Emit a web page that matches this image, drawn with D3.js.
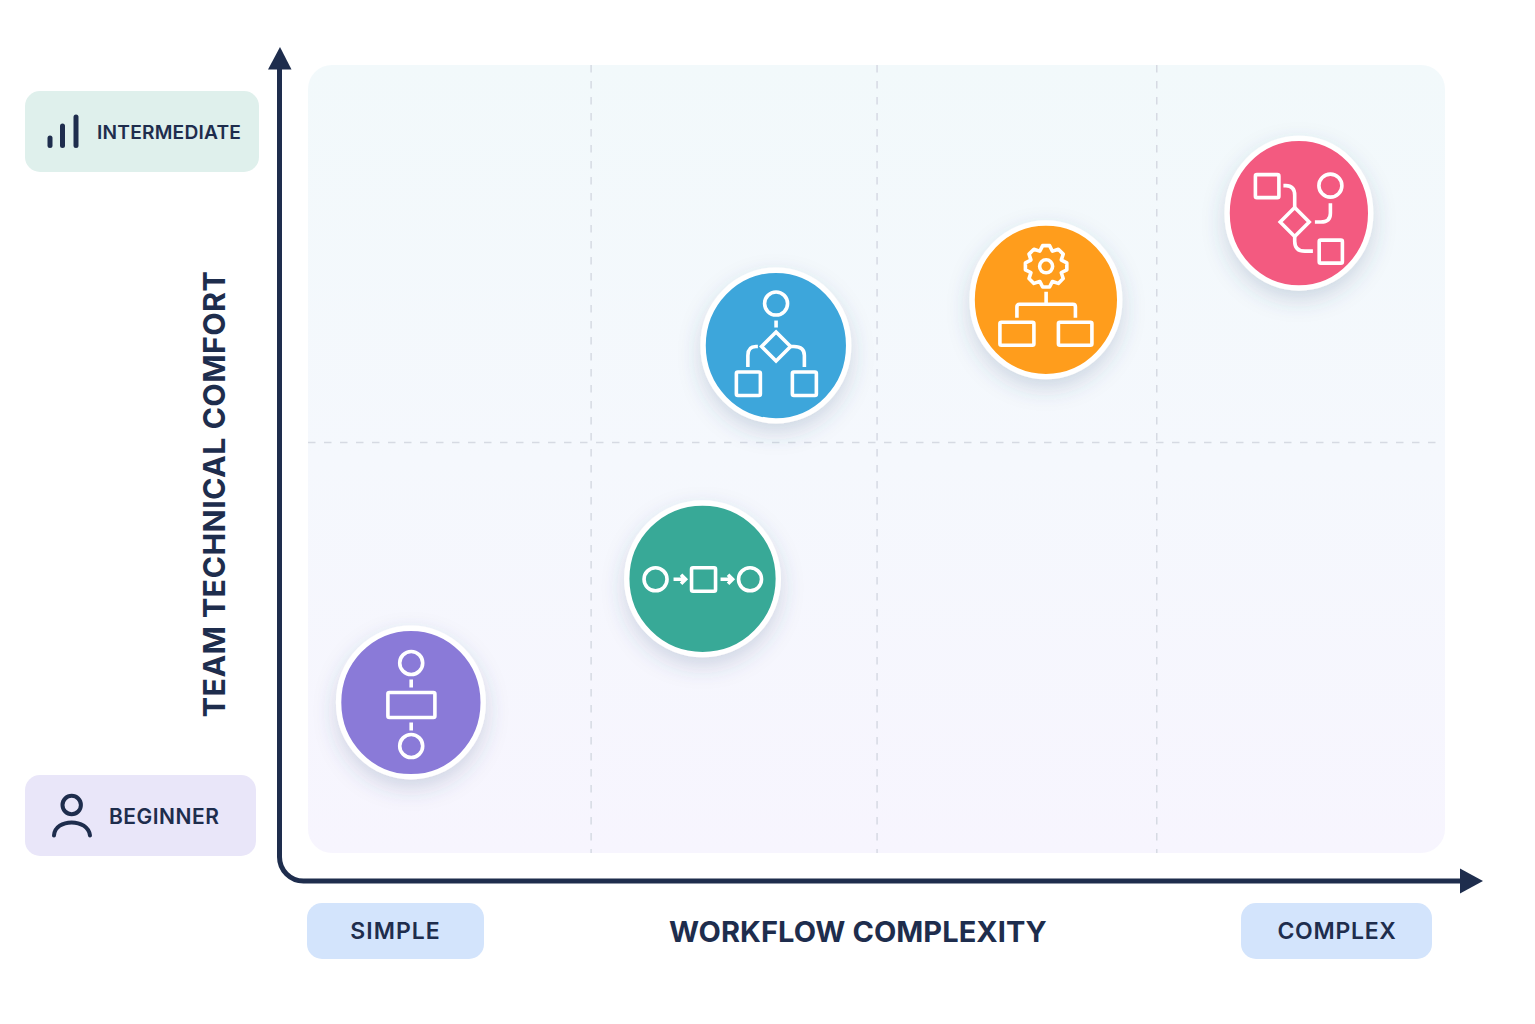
<!DOCTYPE html>
<html><head><meta charset="utf-8">
<style>html,body{margin:0;padding:0;background:#fff}svg{display:block}text{font-family:Inter,"Noto Sans",sans-serif;fill:#1e2d4d}</style>
<script src="https://cdn.jsdelivr.net/npm/d3@7"></script>
</head><body><svg id="c" width="1535" height="1024"></svg>
<script>
// data
const workflows = ["linear-gate","sequence","branch","automation","conditional"];
const complexity = [9.05, 34.7, 41.15, 64.9, 87.15];
const comfort = [19.1, 34.8, 64.4, 70.2, 81.2];
const colors = ["#8a7ad8","#38a997","#3ea6db","#ff9d1c","#f35a80"];
const gridX = [24.9, 50.05, 74.65];
const gridY = [52.1];
const xTitle = "WORKFLOW COMPLEXITY";
const yTitle = "TEAM TECHNICAL COMFORT";

const W=1535,H=1024, P={l:308,r:1445,t:65,b:853};
const svg=d3.select("#c");
const x=d3.scaleLinear([0,100],[P.l,P.r]);
const y=d3.scaleLinear([0,100],[P.b,P.t]);
const defs=svg.append("defs");
const g=defs.append("linearGradient").attr("id","bg").attr("x1",0).attr("y1",0).attr("x2",0).attr("y2",1);
[[0,"#f2f9fb"],[.5,"#f5f8fd"],[1,"#f7f5fe"]].forEach(s=>g.append("stop").attr("offset",s[0]).attr("stop-color",s[1]));
const f=defs.append("filter").attr("id","sh").attr("x","-40%").attr("y","-40%").attr("width","180%").attr("height","180%");
f.append("feDropShadow").attr("dx",0).attr("dy",9).attr("stdDeviation",11).attr("flood-color","#3d4f7a").attr("flood-opacity",.2);

svg.append("rect").attr("x",P.l).attr("y",P.t).attr("width",P.r-P.l).attr("height",P.b-P.t).attr("rx",24).attr("fill","url(#bg)");

// grid through d3 axes
function styleGrid(s){s.select(".domain").remove();s.selectAll(".tick line").attr("stroke","#d6dae3").attr("stroke-width",1.5).attr("stroke-dasharray","7.5 8.5");s.selectAll(".tick text").remove();}
svg.append("g").attr("transform",`translate(0,${P.t})`).call(d3.axisBottom(x).offset(0).tickValues(gridX).tickSize(P.b-P.t)).call(styleGrid);
svg.append("g").attr("transform",`translate(${P.l},0)`).call(d3.axisRight(y).offset(0).tickValues(gridY).tickSize(P.r-P.l-4)).call(styleGrid);

// axes
const ink="#1e2d4d";
svg.append("path").attr("d","M279.5 66V857A24 24 0 0 0 303.5 881H1462").attr("fill","none").attr("stroke",ink).attr("stroke-width",5);
svg.append("path").attr("d","M280 47L291.5 69.5H268Z").attr("fill",ink);
svg.append("path").attr("d","M1460 868.5L1483 881L1460 893.5Z").attr("fill",ink);

// badges
function badge(x0,y0,w,h,fill,label,tx,size,anchor,ls,dy){
  svg.append("rect").attr("x",x0).attr("y",y0).attr("width",w).attr("height",h).attr("rx",15).attr("fill",fill);
  svg.append("text").attr("x",tx).attr("y",y0+h/2+dy).attr("dy","0.36em").attr("font-size",size).attr("font-weight",600).attr("letter-spacing",ls).attr("text-anchor",anchor).text(label);
}
badge(25,91,234,81,"#dff0ec","INTERMEDIATE",97,19.2,"start",.2,1);
badge(25,775,231,81,"#e9e6f9","BEGINNER",109,21,"start",.5,1);
badge(307,903,177,56,"#d3e4fc","SIMPLE",395.5,23,"middle",1,0);
badge(1241,903,191,56,"#d3e4fc","COMPLEX",1337,23,"middle",.7,0);
// bar icon
svg.append("g").attr("stroke",ink).attr("stroke-width",5).attr("stroke-linecap","round")
 .selectAll("line").data([[50,138],[62.5,126],[76,117]]).join("line")
 .attr("x1",d=>d[0]).attr("x2",d=>d[0]).attr("y1",d=>d[1]).attr("y2",145.5);
// person icon
const pi=svg.append("g").attr("fill","none").attr("stroke",ink).attr("stroke-width",4).attr("stroke-linecap","round");
pi.append("circle").attr("cx",71.7).attr("cy",805).attr("r",9.2);
pi.append("path").attr("d","M54 835.5C55 818 88 818 90 835.5");

// axis titles
svg.append("text").attr("x",858).attr("y",932).attr("dy","0.36em").attr("text-anchor","middle").attr("font-size",29).attr("font-weight",700).attr("letter-spacing",.05).text(xTitle);
svg.append("text").attr("transform","translate(214,494) rotate(-90)").attr("dy","0.36em").attr("text-anchor","middle").attr("font-size",30.5).attr("font-weight",700).attr("letter-spacing",.35).text(yTitle);

// icons, local to circle centre
const sq=(s,a,b,c,d)=>s.append("rect").attr("x",a).attr("y",b).attr("width",c-a).attr("height",d-b).attr("rx",1.5);
const ci=(s,a,b,r)=>s.append("circle").attr("cx",a).attr("cy",b).attr("r",r);
const pa=(s,d)=>s.append("path").attr("d",d);
const dia=(a,b,r)=>`M${a} ${b-r}L${a+r} ${b}L${a} ${b+r}L${a-r} ${b}Z`;
function gear(s,a,b){
  const n=8,ro=21,ri=16.5,pts=[];
  for(let i=0;i<n;i++){const t=i/n*2*Math.PI-Math.PI/2,w=Math.PI/n;
    [[ri,-w*.98],[ro,-w*.42],[ro,w*.42],[ri,w*.98]].forEach(([r,o])=>pts.push([a+r*Math.cos(t+o),b+r*Math.sin(t+o)]));}
  pa(s,d3.line().curve(d3.curveLinearClosed)(pts)).attr("stroke-linejoin","round");
  ci(s,a,b,6.5);
}
const icons={
 "linear-gate":s=>{ci(s,.3,-39.5,11.5);pa(s,"M.3 -23V-15");sq(s,-23,-10,24,15);pa(s,"M.3 20V28");ci(s,.3,43.5,11.5);},
 "sequence":s=>{ci(s,-47,.5,11.5);pa(s,"M-29 .5H-17M-21.5 -4L-17 .5L-21.5 5");sq(s,-11,-11,13,12.5);pa(s,"M18 .5H30M25.5 -4L30 .5L25.5 5");ci(s,47.5,.5,11.5);},
 "branch":s=>{ci(s,.2,-42,11.5);pa(s,"M.2 -25V-18");pa(s,dia(.2,1,14.5));pa(s,"M-18 1H-20Q-28 1 -28 10V21.5M15 1H18Q28.5 1 28.5 10V21.5");sq(s,-39.5,26.5,-15.5,50);sq(s,16.5,26.5,40.5,50);},
 "automation":s=>{gear(s,.2,-33.5);pa(s,"M.2 -8V4.5M-29 18V7Q-29 4.5 -26.5 4.5H27Q29.5 4.5 29.5 7V18");sq(s,-46,22.5,-12,45.5);sq(s,12.5,22.5,46,45.5);},
 "conditional":s=>{sq(s,-43.5,-38.5,-20,-15.5);ci(s,31.5,-27.5,11.5);pa(s,dia(-4.2,8.8,14.5));pa(s,"M-15.5 -27.5H-13Q-4.2 -27.5 -4.2 -18V-5.5M16 8.8H22Q31.5 8.8 31.5 0V-10M-4.2 22V28Q-4.2 38 6 38H14");sq(s,20.3,27,43.5,50);}
};
// outer radii measured per marker
const radii=[[75,77],[78.5,78.5],[75.5,78],[76.5,79.5],[74.5,77.5]];
const nodes=svg.append("g").selectAll("g").data(workflows).join("g")
 .attr("transform",(d,i)=>`translate(${x(complexity[i])},${y(comfort[i])})`);
nodes.append("ellipse").attr("rx",(d,i)=>radii[i][0]-2.7).attr("ry",(d,i)=>radii[i][1]-2.7)
 .attr("fill",(d,i)=>colors[i]).attr("stroke","#fff").attr("stroke-width",5.4).attr("filter","url(#sh)");
nodes.each(function(d){
  const s=d3.select(this).append("g").attr("fill","none").attr("stroke","#fff").attr("stroke-width",3.6);
  icons[d](s);
});
</script></body></html>
